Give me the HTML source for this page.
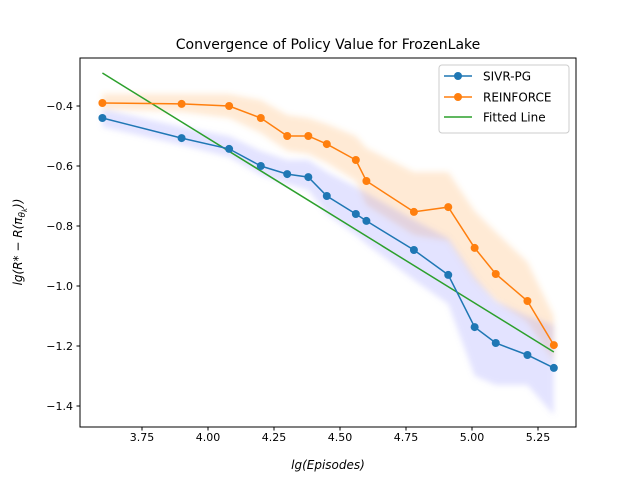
<!DOCTYPE html>
<html><head><meta charset="utf-8">
<style>
html,body{margin:0;padding:0;background:#fff;}
svg text{font-family:"DejaVu Sans","Liberation Sans",sans-serif;}
</style></head>
<body>
<svg id="chart" width="640" height="480" viewBox="0 0 640 480" xmlns="http://www.w3.org/2000/svg">
<defs>
<clipPath id="clip"><rect x="80" y="58" width="496" height="369"/></clipPath>
<filter id="blur" x="-10%" y="-10%" width="120%" height="120%"><feGaussianBlur stdDeviation="3"/></filter>
</defs>
<rect x="0" y="0" width="640" height="480" fill="#fff"/>
<text x="328" y="49" text-anchor="middle" font-size="14">Convergence of Policy Value for FrozenLake</text>
<g id="bands" clip-path="url(#clip)"></g>
<g id="lines" clip-path="url(#clip)"></g>
<rect x="80" y="58" width="496" height="369" fill="none" stroke="#000" stroke-width="1"/>
<g id="xticks"></g><g id="yticks"></g>
<text x="328" y="469" text-anchor="middle" font-size="12" font-style="italic">lg(Episodes)</text>
<text transform="translate(22,242) rotate(-90)" text-anchor="middle" font-size="12" font-style="italic">lg(R* − R(π<tspan font-size="9" dy="3">θ</tspan><tspan font-size="7" dy="2">k</tspan><tspan dy="-5">))</tspan></text>
<g>
<rect x="439" y="65" width="130" height="68" rx="3" fill="#fff" fill-opacity="0.8" stroke="#ccc"/>
<g><line x1="444" y1="76" x2="472" y2="76" stroke="#1f77b4" stroke-width="1.5"/><circle cx="458" cy="76" r="4" fill="#1f77b4"/><text x="483" y="80.5" font-size="12">SIVR-PG</text></g>
<g><line x1="444" y1="97" x2="472" y2="97" stroke="#ff7f0e" stroke-width="1.5"/><circle cx="458" cy="97" r="4" fill="#ff7f0e"/><text x="483" y="101.5" font-size="12">REINFORCE</text></g>
<g><line x1="444" y1="117" x2="472" y2="117" stroke="#2ca02c" stroke-width="1.5"/><text x="483" y="121.5" font-size="12">Fitted Line</text></g>
</g>
</svg>
<script>
const xValues=[3.60,3.90,4.08,4.20,4.30,4.38,4.45,4.56,4.60,4.78,4.91,5.01,5.09,5.21,5.31];
const sivrValues=[-0.44,-0.507,-0.543,-0.60,-0.627,-0.637,-0.70,-0.76,-0.783,-0.88,-0.963,-1.137,-1.19,-1.23,-1.273];
const sivrHigh=[-0.41,-0.47,-0.50,-0.55,-0.58,-0.58,-0.62,-0.67,-0.69,-0.78,-0.84,-0.97,-1.05,-1.10,-1.13];
const sivrLow=[-0.47,-0.53,-0.57,-0.63,-0.66,-0.68,-0.76,-0.83,-0.86,-0.98,-1.06,-1.30,-1.33,-1.33,-1.43];
const reinforceValues=[-0.39,-0.393,-0.40,-0.44,-0.50,-0.50,-0.527,-0.58,-0.65,-0.753,-0.737,-0.873,-0.96,-1.05,-1.197];
const reinforceHigh=[-0.36,-0.36,-0.36,-0.38,-0.43,-0.44,-0.46,-0.50,-0.54,-0.62,-0.62,-0.75,-0.82,-0.92,-1.10];
const reinforceLow=[-0.41,-0.42,-0.44,-0.49,-0.55,-0.56,-0.59,-0.65,-0.73,-0.83,-0.85,-0.98,-1.05,-1.12,-1.25];
const fitX=[3.60,5.31];
const fitY=[-0.29,-1.22];
const xTicks=[3.75,4.00,4.25,4.50,4.75,5.00,5.25];
const xTickLabels=["3.75","4.00","4.25","4.50","4.75","5.00","5.25"];
const yTicks=[-0.4,-0.6,-0.8,-1.0,-1.2,-1.4];
const yTickLabels=["−0.4","−0.6","−0.8","−1.0","−1.2","−1.4"];

const NS="http://www.w3.org/2000/svg";
function sx(v){return 142+(v-3.75)*264;}
function sy(v){return 106-(v+0.4)*300;}
function mk(tag,attrs,parent){const e=document.createElementNS(NS,tag);for(const k in attrs)e.setAttribute(k,attrs[k]);parent.appendChild(e);return e;}
const bands=document.getElementById('bands'),lines=document.getElementById('lines');
function band(hi,lo,color,name){
  let d='M'+xValues.map((x,i)=>sx(x)+','+sy(hi[i])).join('L');
  d+='L'+xValues.map((x,i)=>[x,i]).reverse().map(([x,i])=>sx(x)+','+sy(lo[i])).join('L')+'Z';
  const p=mk('path',{d:d,fill:color,'fill-opacity':0.22,filter:'url(#blur)'},bands);
  
  
}
band(reinforceHigh,reinforceLow,'#ffa040','reinforce-band');
band(sivrHigh,sivrLow,'#8080ff','sivr-band');
function series(vals,color,name){
  const pl=mk('polyline',{points:xValues.map((x,i)=>sx(x)+','+sy(vals[i])).join(' '),fill:'none',stroke:color,'stroke-width':1.5},lines);
  
  
  xValues.forEach((x,i)=>{
    const c=mk('circle',{cx:sx(x),cy:sy(vals[i]),r:4,fill:color},lines);
    
    
  });
}
const fl=mk('line',{x1:sx(fitX[0]),y1:sy(fitY[0]),x2:sx(fitX[1]),y2:sy(fitY[1]),stroke:'#2ca02c','stroke-width':1.5},lines);


series(reinforceValues,'#ff7f0e','reinforce');
series(sivrValues,'#1f77b4','sivr');
const xt=document.getElementById('xticks'),yt=document.getElementById('yticks');
xTicks.forEach((v,i)=>{
  mk('line',{x1:sx(v),y1:427,x2:sx(v),y2:430.5,stroke:'#000'},xt);
  const t=mk('text',{x:sx(v),y:441,'text-anchor':'middle','font-size':11},xt);
  t.textContent=xTickLabels[i];
  
  
});
yTicks.forEach((v,i)=>{
  mk('line',{x1:76.5,y1:sy(v),x2:80,y2:sy(v),stroke:'#000'},yt);
  const t=mk('text',{x:73,y:sy(v)+4,'text-anchor':'end','font-size':11},yt);
  t.textContent=yTickLabels[i];
  
  
});
</script>
</body></html>
